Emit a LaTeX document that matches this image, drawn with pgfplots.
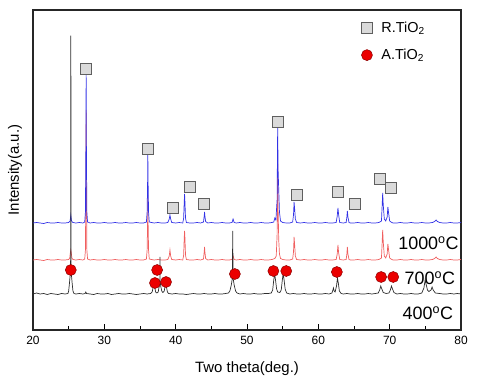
\documentclass[border=0pt]{standalone}
\usepackage{fontspec}
\setmainfont{Liberation Sans}
\usepackage{pgfplots}
\pgfplotsset{compat=1.18}
\definecolor{cblue}{RGB}{50,50,230}
\definecolor{cred}{RGB}{240,95,95}
\definecolor{cblack}{RGB}{45,45,45}
\definecolor{sqfill}{RGB}{218,218,218}
\definecolor{sqdraw}{RGB}{95,95,95}
\definecolor{cirfill}{RGB}{235,0,0}
\definecolor{cirdraw}{RGB}{140,0,0}
\begin{document}
\begin{tikzpicture}
\begin{axis}[
  scale only axis, width=428bp, height=320bp,
  xmin=20, xmax=80, ymin=0, ymax=320,
  axis line style={line width=1.1pt, black!85},
  xtick={20,30,...,80}, minor xtick={25,35,...,75},
  ytick=\empty,
  tick align=inside, xtick pos=bottom,
  major tick length=6bp, minor tick length=4bp,
  every tick/.style={black, line width=0.9pt},
  /pgf/number format/assume math mode=true,
  ticklabel style={font=\fontsize{12}{14}\selectfont},
  xticklabel style={yshift=-3bp},
  xlabel={Two theta(deg.)}, ylabel={Intensity(a.u.)},
  label style={font=\fontsize{15}{18}\selectfont},
  xlabel style={at={(axis description cs:0.5,-0.121)}, anchor=center},
  ylabel style={at={(axis description cs:-0.042,0.5)}, anchor=center, rotate=0},
  legend style={draw=none, fill=none, at={(rel axis cs:0.76,0.975)}, anchor=north west,
    font=\fontsize{14.5}{17}\selectfont, row sep=11bp},
  legend cell align=left,
  clip=false,
]
% red 700 C
\addplot[cred, line width=0.7pt, forget plot] coordinates {
(20,70) (20.5,70.5) (21,70) (21.5,69.5) (22,70.5) (22.5,70) (23,70) (23.5,70.5) (24,70) (24.5,70) (25,70.5)
(25.15,72) (25.25,78) (25.3,80) (25.35,78) (25.45,72) (25.6,70.5) (26,70) (26.5,70.5) (27,70) (27.25,71)
(27.35,80) (27.42,150) (27.45,220) (27.48,150) (27.55,80) (27.65,71)
(28,70) (28.5,70.5) (29,70) (29.5,70) (30,70.5) (30.5,70) (31,70) (31.5,70.5) (32,70) (32.5,70) (33,70.5) (33.5,70) (34,70) (34.5,70.5) (35,70) (35.5,70) (35.9,71)
(36.0,80) (36.07,110) (36.1,135) (36.13,110) (36.2,80) (36.3,71)
(36.6,70.5) (37,70) (37.5,70.5) (38,70) (38.5,70) (38.9,70.5) (39.1,74) (39.2,80) (39.3,74) (39.45,70.5)
(40,70) (40.5,70.5) (41,70) (41.12,75) (41.2,92) (41.25,99) (41.3,92) (41.38,75) (41.5,70.5)
(42,70) (42.5,70) (43,70.5) (43.5,70) (43.9,71) (44.0,78) (44.05,83) (44.1,78) (44.2,71.5) (44.5,70)
(45,70.5) (45.5,70) (46,70) (46.5,70.5) (47,70) (47.5,70) (47.9,70.5) (48.05,74) (48.2,70.5) (48.5,70)
(49,70.5) (49.5,70) (50,70) (50.5,70.5) (51,70) (51.5,70) (52,70.5) (52.5,70) (53,70) (53.5,70.5) (53.9,71.5) (54.1,74)
(54.22,95) (54.3,166) (54.36,120) (54.45,90) (54.55,76) (54.7,71.5) (55,70.5) (55.5,70) (56,70) (56.4,71)
(56.52,78) (56.6,93) (56.68,85) (56.78,74) (56.95,70.5) (57.5,70) (58,70.5) (58.5,70) (59,70) (59.5,70.5) (60,70) (60.5,70) (61,70.5) (61.5,70) (62,70) (62.5,70.5)
(62.65,76) (62.75,85) (62.85,77) (63,70.5) (63.5,70) (63.9,70.5) (64.0,76) (64.07,83) (64.15,76) (64.3,70.5)
(64.5,70) (65,70) (65.5,70.5) (66,70) (66.5,70) (67,70.5) (67.5,70) (68,70) (68.5,70.5) (68.85,72)
(68.95,88) (69.02,100) (69.1,88) (69.25,74) (69.45,72) (69.65,76) (69.75,86) (69.85,80) (70,72) (70.3,70.5)
(70.5,70) (71,70) (71.5,70.5) (72,70) (72.5,70) (73,70.5) (73.5,70) (74,70) (74.5,70.5) (75,70) (75.5,70) (76,70.5) (76.3,71.5) (76.5,73) (76.7,71.5) (77,70.5) (77.5,70) (78,70) (78.5,70.5) (79,70) (79.5,70) (80,70.5)
};
% blue 1000 C
\addplot[cblue, line width=0.7pt, forget plot] coordinates {
(20,107) (20.5,107.5) (21,107) (21.5,106.5) (22,107.5) (22.5,107) (23,107) (23.5,107.5) (24,107) (24.5,107) (25,107.5)
(25.2,109) (25.3,115) (25.4,109) (25.6,107.5) (26,107) (26.5,107.5) (27,107) (27.25,108)
(27.35,118) (27.42,190) (27.45,255) (27.48,190) (27.55,118) (27.65,108)
(28,107) (28.5,107.5) (29,107) (29.5,107) (30,107.5) (30.5,107) (31,107) (31.5,107.5) (32,107) (32.5,107) (33,107.5) (33.5,107) (34,107) (34.5,107.5) (35,107) (35.5,107) (35.9,108)
(36.0,118) (36.07,150) (36.1,175) (36.13,150) (36.2,118) (36.3,108)
(36.6,107.5) (37,107) (37.5,107.5) (38,107) (38.5,107) (38.9,107.5) (39.1,111) (39.2,115) (39.3,111) (39.45,107.5)
(40,107) (40.5,107.5) (41,107) (41.12,112) (41.2,128) (41.25,136) (41.3,128) (41.38,112) (41.5,107.5)
(42,107) (42.5,107) (43,107.5) (43.5,107) (43.9,108) (44.0,114) (44.05,118) (44.1,114) (44.2,108.5) (44.5,107)
(45,107.5) (45.5,107) (46,107) (46.5,107.5) (47,107) (47.5,107) (47.9,107.5) (48.05,111) (48.2,107.5) (48.5,107)
(49,107.5) (49.5,107) (50,107) (50.5,107.5) (51,107) (51.5,107) (52,107.5) (52.5,107) (53,107) (53.5,107.5) (53.75,108) (53.9,112) (54.05,110)
(54.22,130) (54.3,203) (54.36,160) (54.45,140) (54.55,118) (54.7,109) (55,107.5) (55.5,107) (56,107) (56.4,108)
(56.52,115) (56.6,128) (56.68,121) (56.78,111) (56.95,107.5) (57.5,107) (58,107.5) (58.5,107) (59,107) (59.5,107.5) (60,107) (60.5,107) (61,107.5) (61.5,107) (62,107) (62.5,107.5)
(62.65,114) (62.75,122) (62.85,115) (63,107.5) (63.5,107) (63.9,107.5) (64.0,113) (64.07,119) (64.15,113) (64.3,107.5)
(64.5,107) (65,107) (65.5,107.5) (66,107) (66.5,107) (67,107.5) (67.5,107) (68,107) (68.5,107.5) (68.85,109)
(68.95,125) (69.02,137) (69.1,125) (69.25,111) (69.45,109) (69.65,113) (69.75,123) (69.85,117) (70,109) (70.3,107.5)
(70.5,107) (71,107) (71.5,107.5) (72,107) (72.5,107) (73,107.5) (73.5,107) (74,107) (74.5,107.5) (75,107) (75.5,107) (76,107.5) (76.3,108.5) (76.5,110) (76.7,108.5) (77,107.5) (77.5,107) (78,107) (78.5,107.5) (79,107) (79.5,107) (80,107.5)
};
% black 400 C
\addplot[cblack, line width=0.7pt, forget plot] coordinates {
(20,36) (20.5,37) (21,36) (21.5,36.5) (22,35.5) (22.5,36.5) (23,36) (23.5,35.5) (24,36.5) (24.5,36) (24.9,36.5)
(25.0,39) (25.1,46) (25.2,54) (25.27,58) (25.29,294) (25.31,294) (25.33,58) (25.4,54) (25.5,46) (25.6,39) (25.75,36.5)
(26,36) (26.5,36.5) (27,36) (27.3,36.5) (27.4,38) (27.5,36.5) (28,36) (28.5,35.5) (29,36.5) (29.5,36) (30,36) (30.5,36.5) (31,35.5) (31.5,36) (32,36.5) (32.5,36) (33,36) (33.5,36.5) (34,36) (34.5,35.5) (35,36) (35.5,36.5) (36,36) (36.5,36.5)
(36.7,38) (36.85,43) (36.95,46) (37.05,43) (37.2,38) (37.35,37)
(37.55,38) (37.7,44) (37.79,50) (37.8,73) (37.81,50) (37.9,44) (38.05,39) (38.2,37.5)
(38.4,39) (38.52,44) (38.6,46) (38.7,43) (38.85,38) (39,36.5)
(39.5,36) (40,36.5) (40.5,36) (41,36) (41.5,35.5) (42,36) (42.5,36.5) (43,36) (43.5,36) (44,36.5) (44.5,36) (45,36) (45.5,36.5) (46,36) (46.5,36) (47,36.5) (47.4,37)
(47.6,39) (47.8,45) (47.95,52) (48.0,99) (48.05,52) (48.2,45) (48.4,39) (48.6,37)
(49,36) (49.5,36.5) (50,36) (50.5,36) (51,36.5) (51.5,36) (52,36) (52.5,36.5) (53,36.5) (53.4,37)
(53.6,40) (53.75,50) (53.88,56) (54.0,50) (54.15,41) (54.3,38) (54.6,37.5)
(54.8,40) (54.95,50) (55.07,56) (55.2,50) (55.35,41) (55.55,37)
(56,36) (56.5,36.5) (57,36) (57.5,36) (58,36.5) (58.5,36) (59,36) (59.5,36.5) (60,36) (60.5,36) (61,36.5) (61.5,36) (61.9,37)
(62.05,40) (62.12,42) (62.22,39) (62.35,38) (62.55,44) (62.68,52) (62.8,47) (62.95,39) (63.2,36.5)
(63.5,36) (64,36.5) (64.5,36) (65,36) (65.5,36.5) (66,36) (66.5,36) (67,36.5) (67.5,36) (68,36.5) (68.4,37)
(68.6,40) (68.75,44) (68.9,41) (69.1,37.5) (69.5,36.5) (69.9,37) (70.1,40) (70.25,44) (70.4,41) (70.6,37.5)
(71,36) (71.5,36.5) (72,36) (72.5,36) (73,36.5) (73.5,36) (74,36) (74.5,37)
(74.8,42) (74.97,50) (75.1,46) (75.3,40) (75.5,38.5) (75.8,40) (75.95,43) (76.1,40) (76.4,37)
(77,36.5) (77.5,36) (78,36) (78.5,36.5) (79,36) (79.5,36.5) (80,36)
};
% markers
\addplot[only marks, mark=square*, mark size=5.5bp, mark options={fill=sqfill, draw=sqdraw, line width=0.8pt}] coordinates {
(27.43,261) (36.1,181) (39.6,122) (42.0,143) (44.0,126) (54.35,208) (57.0,135) (62.8,138) (65.1,126) (68.6,151) (70.2,142)
};
\addlegendentry{\hspace{7bp}R.TiO\textsubscript{2}}
\addplot[only marks, mark=*, mark size=5.5bp, mark options={fill=cirfill, draw=cirdraw, line width=0.5pt}] coordinates {
(25.3,60) (37.1,47) (37.4,60) (38.65,48) (48.3,56) (53.7,59) (55.5,59) (62.6,58) (68.8,53) (70.5,53)
};
\addlegendentry{\hspace{7bp}A.TiO\textsubscript{2}}
\node[anchor=east, inner sep=0pt, font=\fontsize{18}{20}\selectfont] at (axis cs:79.7,87) {1000\textsuperscript{o}C};
\node[anchor=east, inner sep=0pt, font=\fontsize{18}{20}\selectfont] at (axis cs:79.2,52) {700\textsuperscript{o}C};
\node[anchor=east, inner sep=0pt, font=\fontsize{18}{20}\selectfont] at (axis cs:78.9,17) {400\textsuperscript{o}C};
\end{axis}
\path (current axis.south west) ++(-33bp,-56bp) rectangle ++(479bp,386bp);
\end{tikzpicture}
\end{document}
